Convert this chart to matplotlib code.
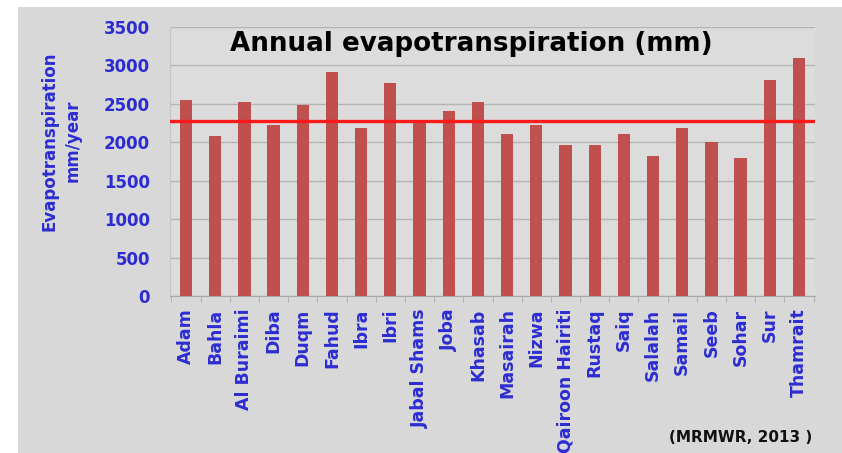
import matplotlib
matplotlib.use("Agg")
import matplotlib.pyplot as plt
from matplotlib.patches import Rectangle
import numpy as np

stations = ["Adam", "Bahla", "Al Buraimi", "Diba", "Duqm", "Fahud", "Ibra", "Ibri",
            "Jabal Shams", "Joba", "Khasab", "Masairah", "Nizwa", "Qairoon Hairiti",
            "Rustaq", "Saiq", "Salalah", "Samail", "Seeb", "Sohar", "Sur", "Thamrait"]
evapotranspiration = [2550, 2080, 2520, 2220, 2480, 2920, 2190, 2770,
                      2260, 2410, 2520, 2110, 2220, 1970,
                      1970, 2110, 1820, 2190, 2000, 1790, 2810, 3100]
reference_level = 2280
y_ticks = [0, 500, 1000, 1500, 2000, 2500, 3000, 3500]

W, H = 842, 453
fig = plt.figure(figsize=(W / 100, H / 100), dpi=100, facecolor="#d8d8d8")
# white margins along the top and left edges
fig.patches.append(Rectangle((0, 0), 18 / W, 1, transform=fig.transFigure,
                             facecolor="white", edgecolor="none", zorder=-10))
fig.patches.append(Rectangle((0, 1 - 7 / H), 1, 7 / H, transform=fig.transFigure,
                             facecolor="white", edgecolor="none", zorder=-10))

ax = fig.add_axes([170 / W, 1 - 296 / H, 645 / W, 269 / H])
ax.set_facecolor("#dcdcdc")

x = np.arange(len(stations))
ax.bar(x, evapotranspiration, width=0.42, color="#c0504d", zorder=3)
ax.axhline(reference_level, color="#ff1a1a", lw=2.4, zorder=4)

ax.set_xlim(-0.55, len(stations) - 0.45)
ax.set_ylim(0, 3500)
ax.set_yticks(y_ticks)
ax.yaxis.grid(True, color="#b4b4b4", lw=1.0, zorder=1)
ax.set_axisbelow(True)

blue = "#2c2cd2"
ax.set_xticks(x)
ax.set_xticklabels(stations, rotation=90, color=blue, fontsize=12.5, fontweight="bold")
ax.set_xticks(np.arange(-0.5, len(stations), 1.0), minor=True)
ax.tick_params(axis="x", which="major", length=0, pad=9)
ax.tick_params(axis="x", which="minor", length=4, color="#a8a8a8")
ax.tick_params(axis="y", length=0, pad=14.5, labelcolor=blue, labelsize=12)
for lab in ax.get_yticklabels():
    lab.set_fontweight("bold")

for side in ["top", "right"]:
    ax.spines[side].set_visible(False)
ax.spines["left"].set_color("#c4c4c4")
ax.spines["bottom"].set_color("#a8a8a8")

fig.text(471 / W, 1 - 44 / H, "Annual evapotranspiration (mm)", ha="center", va="center",
         fontsize=18.8, fontweight="bold", color="black", zorder=5)
fig.text(61 / W, 1 - 141 / H, "Evapotranspiration\nmm/year", ha="center", va="center",
         rotation=90, fontsize=12, fontweight="bold", color=blue, linespacing=1.4)
fig.text(812 / W, 1 - 437 / H, "(MRMWR, 2013 )", ha="right", va="center",
         fontsize=11, fontweight="bold", color="#111111")

fig.savefig("out.png", dpi=100)
